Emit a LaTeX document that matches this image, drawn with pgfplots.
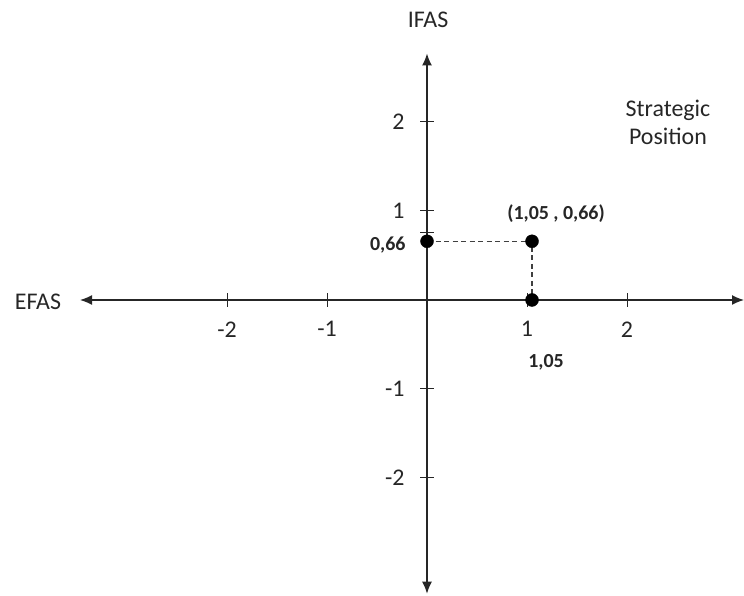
\documentclass[border=0pt]{standalone}
\usepackage{fontspec}
\setmainfont{Carlito}
\usepackage{pgfplots}
\pgfplotsset{compat=1.18}
\usetikzlibrary{arrows.meta}
\definecolor{txt}{HTML}{262626}
\begin{document}
\begin{tikzpicture}
\useasboundingbox (0bp,0bp) rectangle (744bp,596bp);
\begin{axis}[
  at={(427bp,296bp)}, anchor=origin,
  x=100bp, y=89bp,
  axis lines=middle,
  xmin=-3.47, xmax=3.17, ymin=-3.30, ymax=2.77,
  axis line style={line width=1.4bp, color=black!85},
  every inner x axis line/.append style={{Latex[length=12bp,width=10bp]}-{Latex[length=12bp,width=10bp]}},
  every inner y axis line/.append style={{Latex[length=12bp,width=10bp]}-{Latex[length=12bp,width=10bp]}},
  xtick={-2,-1,1,2}, xticklabels={-2,-1,1,2},
  ytick={-2,-1,1,2}, yticklabels={-2,-1,1,2},
  extra y ticks={0.76}, extra y tick labels={},
  tick align=center, major tick length=14bp,
  tick style={line width=1bp, black!85},
  xticklabel style={font=\fontsize{24}{28}\selectfont, text=txt, anchor=north, yshift=-11bp},
  yticklabel style={font=\fontsize{24}{28}\selectfont, text=txt, anchor=east, xshift=-12bp},
  clip=false,
]
\addplot[line width=1.3bp, black!75, dash pattern=on 5bp off 3.5bp] coordinates {(0,0.66) (1.05,0.66) (1.05,0)};
\addplot[only marks, mark=*, mark size=6.5bp, black] coordinates {(0,0.66) (1.05,0.66) (1.05,0)};
\node[font=\bfseries\fontsize{20}{24}\selectfont, text=txt, anchor=east] at (axis cs:-0.18,0.62) {0,66};
\node[font=\bfseries\fontsize{20}{24}\selectfont, text=txt] at (axis cs:1.29,0.97) {(1,05 , 0,66)};
\node[font=\bfseries\fontsize{20}{24}\selectfont, text=txt] at (axis cs:1.19,-0.70) {1,05};
\end{axis}
\node[font=\fontsize{24}{28}\selectfont, text=txt] at (428bp,576bp) {IFAS};
\node[font=\fontsize{24}{28}\selectfont, text=txt] at (38bp,294bp) {EFAS};
\node[font=\fontsize{24}{28}\selectfont, text=txt, align=center] at (668bp,474bp) {Strategic\\Position};
\end{tikzpicture}
\end{document}
